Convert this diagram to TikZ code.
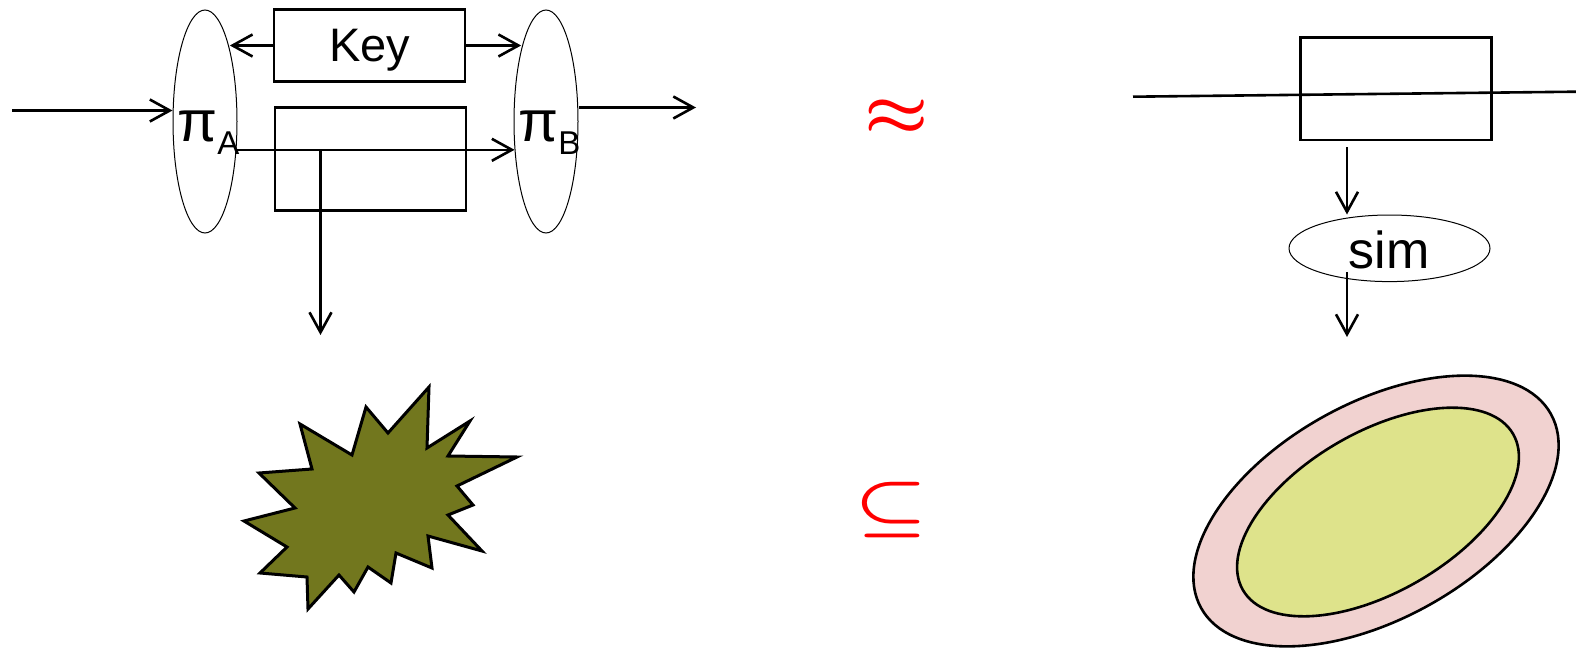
\documentclass[tikz,border=0pt]{standalone}
\usepackage{fontspec}
\setmainfont{Liberation Sans}
\usetikzlibrary{arrows.meta,positioning,shapes.geometric}
\definecolor{burstolive}{RGB}{114,119,30}
\definecolor{outerpink}{RGB}{241,210,208}
\definecolor{innerlime}{RGB}{222,227,139}

\begin{document}
\begin{tikzpicture}[x=.5pt,y=-.5pt,line width=1.3pt,>={Straight Barb[length=10pt,width=11pt]},
    proj/.style={draw,ellipse,line width=.5pt,minimum width=32pt,minimum height=111.5pt,inner sep=0pt},
    box/.style={draw,rectangle,minimum width=95.5pt,inner sep=0pt},
    fs/.style={font=\fontsize{#1}{#1}\selectfont},
    rel/.style={text=red,font=\boldmath}]
  \useasboundingbox (0,0) rectangle (1576,648);
  % left: projections round the key
  \node[proj] (piA) at (205,121.5) {};
  \node[proj] (piB) at (546,121.5) {};
  \node[box,minimum height=36pt,text depth=0pt,fs=23.5] (key) at (369.5,45.5) {Key};
  \node[box,minimum height=51.75pt] (enc) at (370.5,159) {};
  \node[anchor=base west,inner sep=0pt,fs=29] (labA) at (176,141.5) {π\raisebox{-6.7pt}{\fontsize{16.5}{16.5}\selectfont A}};
  \node[anchor=base west,inner sep=0pt,fs=29] (labB) at (517,141.5) {π\raisebox{-6.7pt}{\fontsize{16.5}{16.5}\selectfont B}};
  \coordinate (in) at (12,110.5);
  \coordinate (out) at (696,107.5);
  \coordinate (drop) at (320.5,335);
  \draw[->] (in) -- (in -| piA.west);
  \draw[->] (key.west) -- (key.west -| piA.71);
  \draw[->] (key.east) -- (key.east -| piB.109);
  \draw[->] (piA.-42) -- (piB.-138);
  \draw[->] (drop |- piA.-42) -- (drop);
  \draw[->] (piB.east |- out) -- (out);
  \filldraw[fill=burstolive,line width=1.5pt] (429,387) -- (427,448) -- (470,421) -- (448,456) -- (517,457)
    -- (457,486) -- (473,505) -- (448,515) -- (482,551) -- (428,536) -- (432,568) -- (396,553)
    -- (391,583) -- (368,567) -- (354,592) -- (339,575) -- (308,609) -- (307,577) -- (260,573)
    -- (287,547) -- (244,521) -- (295,508) -- (259,473) -- (312,469) -- (300,424) -- (352,455)
    -- (366,407) -- (388,433) -- cycle;
  % middle: relations
  \node[rel,xscale=3.6,yscale=3.2] (approx) at (897,117) {$\approx$};
  \node[rel,xscale=4.1,yscale=3.1] (subs) at (891,510) {$\subseteq$};
  % right: ideal functionality
  \node[box,minimum height=51.25pt] (tbox) at (1396,88.7) {};
  \coordinate (lineL) at (1133,96.7);
  \coordinate (lineR) at (1576,91.7);
  \draw (lineL) -- (lineR);
  \node[draw,ellipse,line width=.5pt,minimum width=100.5pt,minimum height=33.3pt] (sim) at (1389.5,248.3) {};
  \node[anchor=base,inner sep=0pt,fs=26] (simtxt) at (1389,268) {sim};
  \coordinate (tap) at (1347,147);
  \coordinate (down) at (1347,337);
  \draw[->] (tap) -- (tap |- sim.north);
  \draw[->] ([yshift=5pt]sim.south -| down) -- (down);
  \filldraw[fill=outerpink,rotate around={29:(1376,511)}] (1376,511) ellipse [x radius=200,y radius=108];
  \filldraw[fill=innerlime,rotate around={30:(1378,512)}] (1378,512) ellipse [x radius=156,y radius=80];
\end{tikzpicture}
\end{document}
